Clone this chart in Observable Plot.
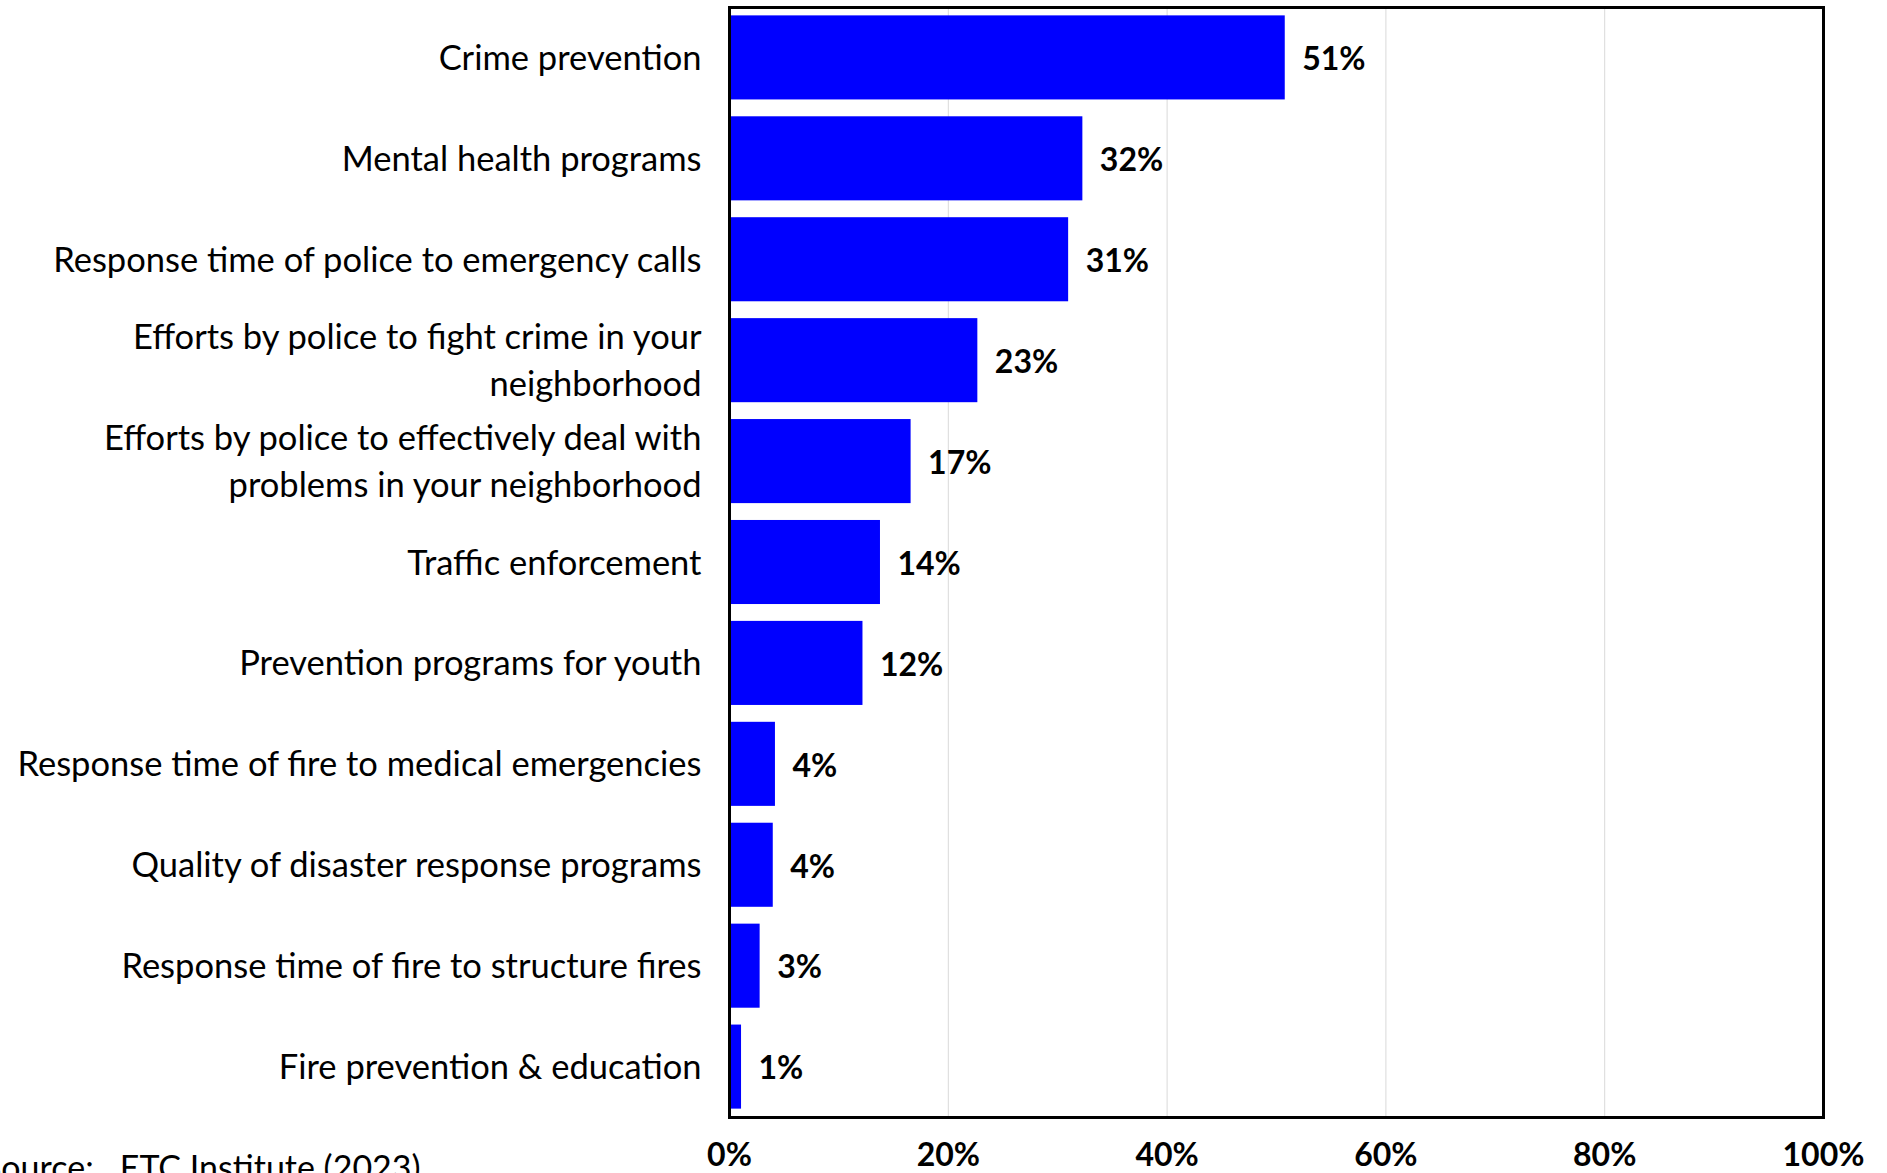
<!DOCTYPE html>
<html>
<head>
<meta charset="utf-8">
<script src="https://cdn.jsdelivr.net/npm/d3@7"></script>
<script src="https://cdn.jsdelivr.net/npm/@observablehq/plot@0.6"></script>
<style>
  html, body { margin: 0; padding: 0; background: #fff; overflow: hidden; }
  #wrap { position: relative; width: 1887px; height: 1173px; }
  #source { position: absolute; left: -17px; top: 1146px; font-family: Lato, sans-serif; font-size: 34px; color: #000; white-space: pre; }
</style>
</head>
<body>
<div id="wrap">
  <div id="chart"></div>
  <div id="source">Source:   ETC Institute (2023)</div>
</div>
<script>
const categories = [
  "Crime prevention",
  "Mental health programs",
  "Response time of police to emergency calls",
  "Efforts by police to fight crime in your\nneighborhood",
  "Efforts by police to effectively deal with\nproblems in your neighborhood",
  "Traffic enforcement",
  "Prevention programs for youth",
  "Response time of fire to medical emergencies",
  "Quality of disaster response programs",
  "Response time of fire to structure fires",
  "Fire prevention & education"
];
const values = [50.8, 32.3, 31.0, 22.7, 16.6, 13.8, 12.2, 4.2, 4.0, 2.8, 1.1];
const valueLabels = ["51%", "32%", "31%", "23%", "17%", "14%", "12%", "4%", "4%", "3%", "1%"];
const xTicks = [0, 20, 40, 60, 80, 100];
const gridTicks = [20, 40, 60, 80];

const data = categories.map((c, i) => ({category: c, value: values[i], label: valueLabels[i]}));

const chart = Plot.plot({
  width: 1887,
  height: 1173,
  marginLeft: 729,
  marginRight: 64,
  marginTop: 7,
  marginBottom: 56,
  style: {fontFamily: "Lato, sans-serif", color: "#000", background: "#fff"},
  x: {domain: [0, 100]},
  y: {domain: categories, paddingInner: 0.167, paddingOuter: 0.083, round: false},
  marks: [
    Plot.gridX(gridTicks, {stroke: "#d9d9d9", strokeOpacity: 1, strokeWidth: 1}),
    Plot.barX(data, {x: "value", y: "category", fill: "#0000ff"}),
    Plot.text(data, {x: "value", y: "category", text: "label", textAnchor: "start", dx: 17, dy: 2, fontSize: 32, fontWeight: "bold", fill: "#000"}),
    Plot.axisY({tickSize: 0, tickPadding: 28, dy: -3, fontSize: 34.5, lineHeight: 1.36, label: null, fill: "#000"}),
    Plot.axisX({ticks: xTicks, tickFormat: d => d + "%", tickSize: 0, tickPadding: 26, fontSize: 32, fontWeight: "bold", label: null, fill: "#000"}),
    Plot.frame({stroke: "#000", strokeWidth: 3})
  ]
});
document.getElementById("chart").appendChild(chart);
</script>
</body>
</html>
